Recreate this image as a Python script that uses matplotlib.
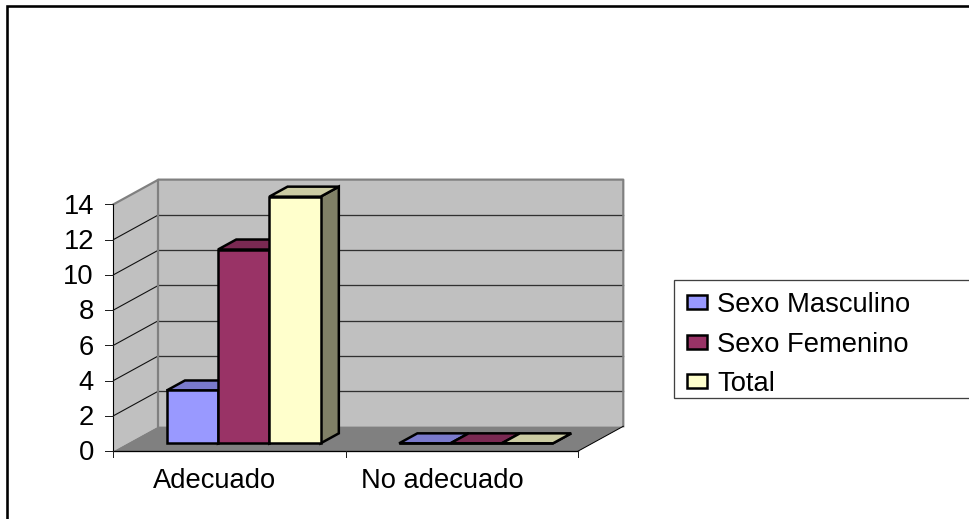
import matplotlib
matplotlib.use('Agg')
import matplotlib.pyplot as plt
from matplotlib.patches import Polygon, Rectangle

plt.rcParams['font.family'] = ['Liberation Sans']

# Datos
categorias = ['Adecuado', 'No adecuado']
series = ['Sexo Masculino', 'Sexo Femenino', 'Total']
masculino = [3, 0]
femenino = [11, 0]
total = [14, 0]
valores_y = [0, 2, 4, 6, 8, 10, 12, 14]

colores = ['#9999FF', '#993366', '#FFFFCC']
colores_top = ['#7A7ACC', '#7A2952', '#CCCCA3']
colores_lado = ['#4D4D80', '#4D1A33', '#808066']

# Geometria del grafico en pixeles
X0, X1 = 113.5, 578.3
Y0, PX_UNIDAD = 451.0, 17.62
DX, DY = 45.0, 24.7
ANCHO_BARRA = 0.2207
INICIO_GRUPO = 0.169
T_FRENTE, T_FONDO = 0.31, 0.715
X_ETIQUETAS = [214.5, 442.5]


def px(cat, val, t=0.0):
    # cat en unidades de categoria, val en unidades del eje y, t profundidad 0-1
    x = X0 + (X1 - X0) * cat / len(categorias) + DX * t
    y = Y0 - PX_UNIDAD * val - DY * t
    return (x, y)


def lw(pixeles):
    return pixeles * 72 / 100


fig = plt.figure(figsize=(9.7, 5.19), dpi=100)
ax = fig.add_axes([0, 0, 1, 1])
ax.set_xlim(0, 970)
ax.set_ylim(519, 0)
ax.axis('off')

# Marco exterior (solo arriba e izquierda)
ax.plot([7, 7, 970], [519, 5.5, 5.5], color='black', lw=lw(2.6), solid_joinstyle='miter', zorder=1)

n = len(categorias)
vmax = valores_y[-1]

# Paredes y piso
ax.add_patch(Polygon([px(0, 0), px(0, 0, 1), px(0, vmax, 1), px(0, vmax)], fc='#C0C0C0', ec='none', zorder=2))
ax.add_patch(Polygon([px(0, 0, 1), px(n, 0, 1), px(n, vmax, 1), px(0, vmax, 1)], fc='#C0C0C0', ec='none', zorder=2))
ax.add_patch(Polygon([px(0, 0), px(n, 0), px(n, 0, 1), px(0, 0, 1)], fc='#808080', ec='none', zorder=2))

# Lineas de division
for v in valores_y[1:-1]:
    a, b, c = px(0, v), px(0, v, 1), px(n, v, 1)
    ax.plot([a[0], b[0]], [a[1], b[1]], color='#101010', lw=lw(1.1), zorder=3)
    ax.plot([b[0], c[0]], [b[1], c[1]], color='#303030', lw=lw(1.3), zorder=3)

# Bordes grises de las paredes
borde = [px(0, vmax), px(0, vmax, 1), px(n, vmax, 1), px(n, 0, 1)]
ax.plot([p[0] for p in borde], [p[1] for p in borde], color='#808080', lw=lw(2.2), zorder=4)
ax.plot([px(0, 0, 1)[0], px(0, vmax, 1)[0]], [px(0, 0, 1)[1], px(0, vmax, 1)[1]], color='#808080', lw=lw(2.2), zorder=4)
ax.plot([px(n, 0)[0], px(n, 0, 1)[0]], [px(n, 0)[1], px(n, 0, 1)[1]], color='black', lw=lw(1), zorder=4)

# Ejes
ax.plot([X0, X0], [px(0, 0)[1], px(0, vmax)[1]], color='black', lw=lw(1.1), zorder=5)
ax.plot([X0, X1], [Y0, Y0], color='black', lw=lw(1.3), zorder=5)
for v in valores_y:
    x, y = px(0, v)
    ax.plot([x - 8, x], [y, y], color='#202020', lw=lw(1), zorder=5)
    ax.text(94, y - 0.7, str(v), ha='right', va='center_baseline', fontsize=19.7, color='black')
for i in range(n + 1):
    x, y = px(i, 0)
    ax.plot([x, x], [y, y + 6], color='#202020', lw=lw(1), zorder=5)
for cat, x in zip(categorias, X_ETIQUETAS):
    ax.text(x, 478.5, cat, ha='center', va='center_baseline', fontsize=19.7, color='black')

# Barras 3D
z = 6
for i in range(n):
    for s, valores in enumerate([masculino, femenino, total]):
        c0 = i + INICIO_GRUPO + s * ANCHO_BARRA
        c1 = c0 + ANCHO_BARRA
        v = valores[i]
        tope = [px(c0, v, T_FRENTE), px(c1, v, T_FRENTE), px(c1, v, T_FONDO), px(c0, v, T_FONDO)]
        lado = [px(c1, 0, T_FRENTE), px(c1, 0, T_FONDO), px(c1, v, T_FONDO), px(c1, v, T_FRENTE)]
        frente = [px(c0, 0, T_FRENTE), px(c1, 0, T_FRENTE), px(c1, v, T_FRENTE), px(c0, v, T_FRENTE)]
        for puntos, color in [(lado, colores_lado[s]), (tope, colores_top[s]), (frente, colores[s])]:
            ax.add_patch(Polygon(puntos, fc=color, ec='black', lw=lw(2.5), joinstyle='miter', zorder=z))
            z += 1

# Leyenda
ax.add_patch(Rectangle((674, 280), 320, 118, fc='white', ec='#404040', lw=lw(1.3), zorder=30))
for nombre, color, y in zip(series, colores, [301.7, 342, 381]):
    ax.add_patch(Rectangle((687, y - 7), 20, 14, fc=color, ec='black', lw=lw(2.5), zorder=31))
    ax.text(717, y, nombre, ha='left', va='center_baseline', fontsize=19.7, color='black', zorder=31)

fig.savefig('out.png', dpi=100)
